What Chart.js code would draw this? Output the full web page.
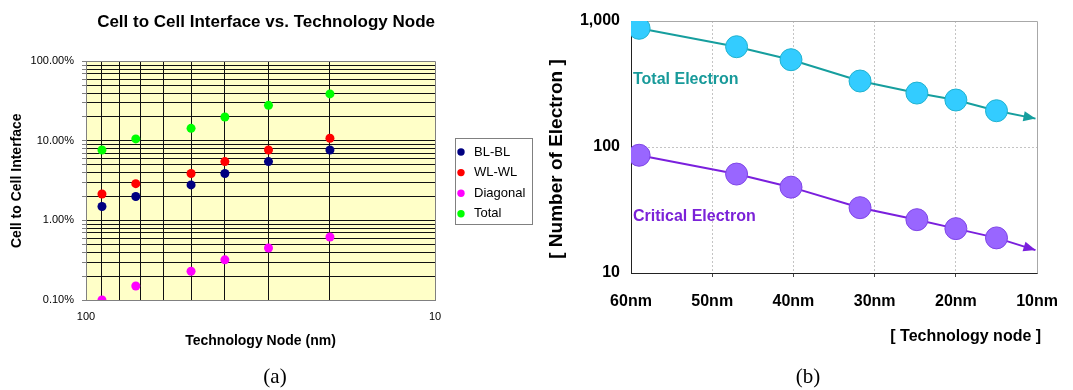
<!DOCTYPE html>
<html>
<head>
<meta charset="utf-8">
<script src="https://cdn.jsdelivr.net/npm/chart.js@4.4.1/dist/chart.umd.min.js"></script>
<style>
  html, body { margin: 0; padding: 0; background: #fff; }
  #wrap { position: relative; width: 1073px; height: 390px; overflow: hidden; }
  #boxA { position: absolute; left: 0; top: 0; width: 540px; height: 390px; }
  #boxB { position: absolute; left: 540px; top: 0; width: 533px; height: 390px; }
  .cap { position: absolute; font-family: "Liberation Serif", "Times New Roman", serif; font-size: 21px;
         color: #000; transform: translateX(-50%); line-height: 1; }
</style>
</head>
<body>
<div id="wrap">
  <div id="boxA"><canvas id="chartA" width="540" height="390"></canvas></div>
  <div id="boxB"><canvas id="chartB" width="533" height="390"></canvas></div>
  <div class="cap" style="left:275px; top:366px">(a)</div>
  <div class="cap" style="left:808px; top:366px">(b)</div>
</div>
<script>
// ---- (a) cell-to-cell interference (%) per technology node (nm) ----
const nodesA   = [90, 72, 50, 40, 30, 20];
const blbl     = [1.5, 2.0, 2.8, 3.9, 5.5, 7.7];
const wlwl     = [2.15, 2.9, 3.9, 5.5, 7.7, 10.8];
const diagonal = [0.1, 0.15, 0.23, 0.32, 0.45, 0.62];
const totalA   = [7.7, 10.6, 14.4, 20, 28, 39];
const seriesA  = ['BL-BL', 'WL-WL', 'Diagonal', 'Total'];
const nodeTicksA = [10, 20, 30, 40, 50, 60, 70, 80, 90, 100];
const pctTicksA  = [0.1, 0.2, 0.3, 0.4, 0.5, 0.6, 0.7, 0.8, 0.9,
                    1, 2, 3, 4, 5, 6, 7, 8, 9,
                    10, 20, 30, 40, 50, 60, 70, 80, 90, 100];

// ---- (b) number of electrons per technology node (nm) ----
const nodesB           = [59, 47, 40.3, 31.8, 24.8, 20, 15];
const totalElectron    = [875, 625, 493, 334, 268, 236, 194];
const criticalElectron = [86, 61, 48, 33, 26.5, 22.5, 19];
const arrowTipNode     = 10.2;   // where each trend arrow ends
const totalArrowTip    = 168;
const criticalArrowTip = 15.2;
const seriesB          = ['Total Electron', 'Critical Electron'];
const yTicksB          = [10, 100, 1000];
const xTitleB          = '[ Technology node ]';
const yTitleB          = '[ Number of Electron ]';

Chart.defaults.font.family = '"Liberation Sans", Arial, Helvetica, sans-serif';
Chart.defaults.color = '#000';

const toXY = (xs, ys) => xs.map((x, i) => ({ x, y: ys[i] }));
const isDecade = v => Math.abs(Math.log10(v) - Math.round(Math.log10(v))) < 1e-9;
const atEdge = c => c.tick && (Math.abs(c.tick.value - c.scale.min) < 1e-9 || Math.abs(c.tick.value - c.scale.max) < 1e-9);
const crisp = v => Math.round(v - 0.5) + 0.5;

// Plot-area fill plus the top/right frame lines
const plotFrame = {
  id: 'plotFrame',
  beforeDraw(chart, args, o) {
    if (!o.fill) return;
    const { ctx, chartArea: a } = chart;
    ctx.save();
    ctx.fillStyle = o.fill;
    ctx.fillRect(a.left, a.top, a.width, a.height);
    ctx.restore();
  },
  beforeDatasetsDraw(chart, args, o) {
    const { ctx, chartArea: a } = chart;
    ctx.save();
    ctx.strokeStyle = o.color;
    ctx.lineWidth = 1;
    ctx.beginPath();
    ctx.moveTo(crisp(a.left), crisp(a.top));
    ctx.lineTo(crisp(a.right), crisp(a.top));
    ctx.lineTo(crisp(a.right), crisp(a.bottom));
    ctx.stroke();
    ctx.restore();
  }
};

// Framed legend to the right of the plot, built from the datasets
const boxedLegend = {
  id: 'boxedLegend',
  afterDraw(chart, args, o) {
    const { ctx, chartArea: a } = chart;
    const x = Math.round(a.right + o.offsetX), y = o.top;
    ctx.save();
    ctx.strokeStyle = o.borderColor;
    ctx.lineWidth = 1;
    ctx.strokeRect(x + 0.5, y + 0.5, o.width, o.height);
    ctx.font = o.font;
    ctx.textBaseline = 'middle';
    chart.data.datasets.forEach((ds, i) => {
      const cy = y + o.firstRow + i * o.rowGap;
      ctx.beginPath();
      ctx.arc(x + o.markerX, cy, o.markerR, 0, Math.PI * 2);
      ctx.fillStyle = ds.backgroundColor;
      ctx.fill();
      ctx.fillStyle = '#000';
      ctx.fillText(ds.label, x + o.textX, cy);
    });
    ctx.restore();
  }
};

// Arrowheads at the end of each trend line, series captions and the axis captions
const trendDecor = {
  id: 'trendDecor',
  afterDatasetsDraw(chart, args, o) {
    const { ctx, chartArea: a } = chart;
    const yScale = chart.scales.y;
    ctx.save();
    chart.data.datasets.forEach((ds, i) => {
      const pts = chart.getDatasetMeta(i).data;
      const tip = pts[pts.length - 1], prev = pts[pts.length - 2];
      const ang = Math.atan2(tip.y - prev.y, tip.x - prev.x);
      const L = o.headLength, W = o.headWidth / 2;
      const bx = tip.x - L * Math.cos(ang), by = tip.y - L * Math.sin(ang);
      ctx.beginPath();
      ctx.moveTo(tip.x, tip.y);
      ctx.lineTo(bx - W * Math.sin(ang), by + W * Math.cos(ang));
      ctx.lineTo(bx + W * Math.sin(ang), by - W * Math.cos(ang));
      ctx.closePath();
      ctx.fillStyle = ds.borderColor;
      ctx.fill();

      ctx.font = o.font;
      ctx.textBaseline = 'middle';
      ctx.textAlign = 'left';
      ctx.fillStyle = o.textColors[i];
      ctx.fillText(ds.label, a.left + o.textInset, yScale.getPixelForValue(o.textAt[i]));
    });
    ctx.fillStyle = '#000';
    ctx.textBaseline = 'middle';

    ctx.font = o.font;
    ctx.textAlign = 'right';
    ctx.fillText(o.xCaption, a.right + o.xCaptionDx, o.xCaptionY);

    ctx.font = o.yFont;
    ctx.textAlign = 'center';
    ctx.translate(o.yCaptionX, o.yCaptionY);
    ctx.rotate(-Math.PI / 2);
    ctx.fillText(o.yCaption, 0, 0);
    ctx.restore();
  }
};

// ---------------- Chart (a) ----------------
const colorsA = ['#000080', '#FF0000', '#FF00FF', '#00FF00'];
new Chart(document.getElementById('chartA'), {
  type: 'scatter',
  data: {
    datasets: [blbl, wlwl, diagonal, totalA].map((vals, i) => ({
      label: seriesA[i],
      data: toXY(nodesA, vals),
      backgroundColor: colorsA[i],
      borderColor: colorsA[i]
    }))
  },
  options: {
    responsive: false,
    animation: false,
    devicePixelRatio: 1,
    layout: { padding: { left: 0, right: 105, top: 0, bottom: 0 } },
    elements: { point: { radius: 4.5, borderWidth: 0, hoverRadius: 4.5 } },
    plugins: {
      legend: { display: false },
      tooltip: { enabled: false },
      title: {
        display: true,
        text: 'Cell to Cell Interface vs. Technology Node',
        align: 'end',
        color: '#000',
        font: { size: 17, weight: 'bold' },
        padding: { top: 12, bottom: 29 }
      },
      plotFrame: { fill: '#FFFFC8', color: '#808080' },
      boxedLegend: {
        offsetX: 20, top: 138, width: 77, height: 86,
        firstRow: 14, rowGap: 20.6, markerX: 6, markerR: 3.7, textX: 19,
        borderColor: '#808080', font: '13px "Liberation Sans", Arial, sans-serif'
      }
    },
    scales: {
      x: {
        type: 'logarithmic',
        reverse: true,
        min: 10,
        max: 100,
        afterFit(s) { s.height = 90; },
        afterBuildTicks(s) { s.ticks = nodeTicksA.map(v => ({ value: v })); },
        grid: { color: c => atEdge(c) ? 'rgba(0,0,0,0)' : '#111', drawTicks: false },
        border: { color: '#808080' },
        ticks: {
          autoSkip: false, maxRotation: 0, padding: 10, color: '#000',
          font: { size: 11 },
          callback: v => isDecade(v) ? String(v) : ''
        },
        title: {
          display: true, text: 'Technology Node (nm)', color: '#000',
          font: { size: 14, weight: 'bold' }, padding: { top: 0, bottom: 40 }
        }
      },
      y: {
        type: 'logarithmic',
        min: 0.1,
        max: 100,
        afterFit(s) { s.width = 86; },
        afterBuildTicks(s) { s.ticks = pctTicksA.map(v => ({ value: v })); },
        grid: {
          color: c => atEdge(c) ? 'rgba(0,0,0,0)' : '#111',
          tickColor: '#808080', tickLength: 4
        },
        border: { color: '#808080' },
        ticks: {
          autoSkip: false, padding: 8, color: '#000',
          font: { size: 11 },
          callback: v => isDecade(v) ? v.toFixed(2) + '%' : ''
        },
        title: {
          display: true, text: 'Cell to Cell Interface', color: '#000',
          font: { size: 14, weight: 'bold' }, padding: { top: 9, bottom: 0 }
        }
      }
    }
  },
  plugins: [plotFrame, boxedLegend]
});

// ---------------- Chart (b) ----------------
const markerRadii = n => Array(n).fill(11).concat(0);
new Chart(document.getElementById('chartB'), {
  type: 'line',
  data: {
    datasets: [
      {
        label: seriesB[0],
        data: toXY(nodesB, totalElectron).concat({ x: arrowTipNode, y: totalArrowTip }),
        borderColor: '#169E9E',
        borderWidth: 2,
        pointRadius: markerRadii(totalElectron.length),
        pointHoverRadius: markerRadii(totalElectron.length),
        pointBackgroundColor: '#33CCFF',
        pointBorderColor: '#1FB2CF',
        pointBorderWidth: 1,
        tension: 0,
        fill: false
      },
      {
        label: seriesB[1],
        data: toXY(nodesB, criticalElectron).concat({ x: arrowTipNode, y: criticalArrowTip }),
        borderColor: '#7A1FDD',
        borderWidth: 2,
        pointRadius: markerRadii(criticalElectron.length),
        pointHoverRadius: markerRadii(criticalElectron.length),
        pointBackgroundColor: '#9966FF',
        pointBorderColor: '#7F45E6',
        pointBorderWidth: 1,
        tension: 0,
        fill: false
      }
    ]
  },
  options: {
    responsive: false,
    animation: false,
    devicePixelRatio: 1,
    layout: { padding: { left: 0, right: 35, top: 21, bottom: 0 } },
    plugins: {
      legend: { display: false },
      tooltip: { enabled: false },
      plotFrame: { color: '#A8A8A8' },
      trendDecor: {
        headLength: 12, headWidth: 10, textInset: 2,
        textAt: [345, 28.1],
        textColors: ['#189A9A', '#7B22D8'],
        font: 'bold 16px "Liberation Sans", Arial, sans-serif',
        xCaption: xTitleB, xCaptionDx: 4, xCaptionY: 337,
        yCaption: yTitleB, yCaptionX: 17, yCaptionY: 159,
        yFont: 'bold 19px "Liberation Sans", Arial, sans-serif'
      }
    },
    scales: {
      x: {
        type: 'linear',
        reverse: true,
        min: 10,
        max: 60,
        afterFit(s) { s.height = 117; },
        grid: {
          color: c => atEdge(c) ? 'rgba(0,0,0,0)' : '#C4C4C4',
          tickColor: c => atEdge(c) ? 'rgba(0,0,0,0)' : '#444',
          tickLength: 4,
          borderDash: [2, 2]
        },
        border: { color: '#222', dash: [2, 2] },
        ticks: {
          stepSize: 10, autoSkip: false, maxRotation: 0, padding: 15, color: '#000',
          font: { size: 16, weight: 'bold' },
          callback: v => v + 'nm'
        }
      },
      y: {
        type: 'logarithmic',
        min: 10,
        max: 1000,
        afterFit(s) { s.width = 91; },
        afterBuildTicks(s) { s.ticks = yTicksB.map(v => ({ value: v })); },
        grid: {
          color: c => atEdge(c) ? 'rgba(0,0,0,0)' : '#C4C4C4',
          drawTicks: false,
          borderDash: [2, 2]
        },
        border: { color: '#222', dash: [2, 2] },
        ticks: {
          autoSkip: false, padding: 11, color: '#000',
          font: { size: 16, weight: 'bold' },
          callback: v => Number(v).toLocaleString('en-US')
        }
      }
    }
  },
  plugins: [plotFrame, trendDecor]
});
</script>
</body>
</html>
